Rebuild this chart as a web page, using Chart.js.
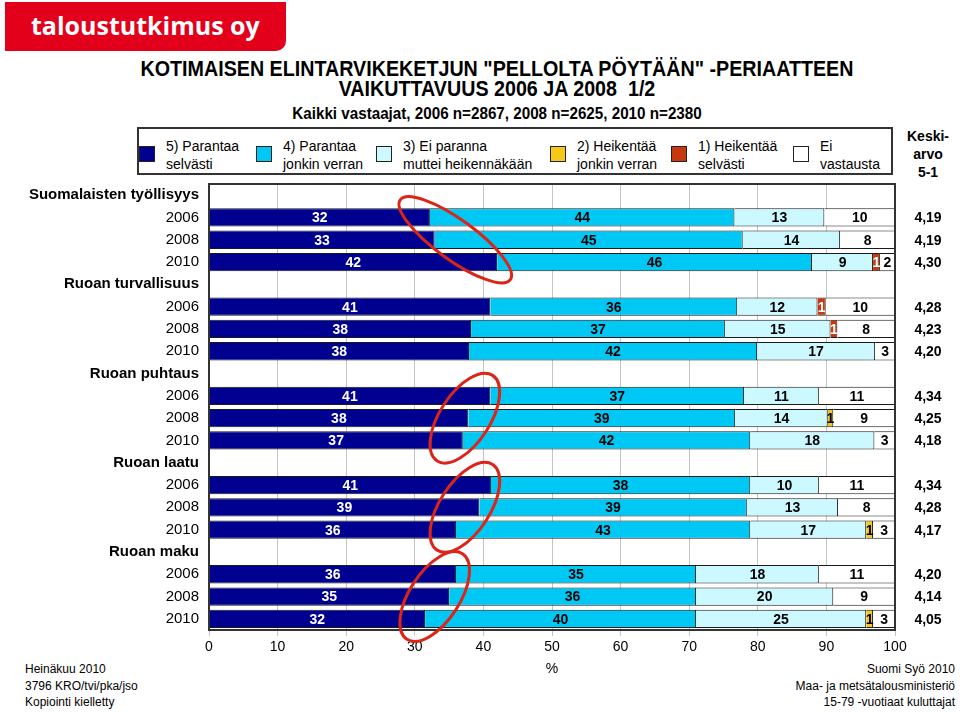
<!DOCTYPE html>
<html lang="fi">
<head>
<meta charset="utf-8">
<title>Pellolta pöytään</title>
<script src="https://cdn.jsdelivr.net/npm/chart.js@4.4.0/dist/chart.umd.min.js"></script>
<style>
  html, body { margin: 0; padding: 0; background: #fff; }
  body { width: 960px; height: 712px; position: relative; overflow: hidden; font-family: "Liberation Sans", Arial, sans-serif; color: #000; }
  #chartGraph { position: absolute; left: 0; top: 0; }
  .logo { position: absolute; left: 5px; top: 2px; width: 281px; height: 49px; background: #e2001a; border-bottom-right-radius: 10px; color: #fff; font-family: "Open Sans", sans-serif; font-weight: 700; font-size: 25px; line-height: 47px; padding-left: 26px; box-sizing: border-box; }
  .title { position: absolute; left: 0; width: 994px; text-align: center; font-family: "Liberation Sans", Arial, sans-serif; font-weight: bold; }
  .t1 { top: 59px; font-size: 22px; line-height: 20px; transform: scaleX(0.895); }
  .t2 { top: 105px; font-size: 16px; line-height: 18px; transform: scaleX(0.95); }
  .legendBox { position: absolute; left: 137px; top: 127px; width: 756px; height: 48px; border: 2px solid #333; box-sizing: border-box; }
  .legendItem { position: absolute; top: 8px; font-size: 14px; line-height: 18px; }
  .legendItem i { position: absolute; left: -27px; top: 9px; width: 14px; height: 14px; border: 1.5px solid #222; }
  .keski { position: absolute; left: 893px; width: 70px; top: 127px; text-align: center; font-weight: bold; font-size: 14px; line-height: 18px; }
  .foot { position: absolute; top: 661px; font-size: 12px; line-height: 16.5px; }
  .foot.left { left: 25px; }
  .foot.right { right: 5px; text-align: right; }
</style>
</head>
<body>
<div class="logo">taloustutkimus oy</div>
<div class="title t1">KOTIMAISEN ELINTARVIKEKETJUN "PELLOLTA PÖYTÄÄN" -PERIAATTEEN<br>VAIKUTTAVUUS 2006 JA 2008&nbsp; 1/2</div>
<div class="title t2">Kaikki vastaajat, 2006 n=2867, 2008 n=2625, 2010 n=2380</div>
<div class="legendBox" id="legendBox"></div>
<div class="keski">Keski-<br>arvo<br>5-1</div>
<div class="foot left">Heinäkuu 2010<br>3796 KRO/tvi/pka/jso<br>Kopiointi kielletty</div>
<div class="foot right">Suomi Syö 2010<br>Maa- ja metsätalousministeriö<br>15-79 -vuotiaat kuluttajat</div>
<canvas id="chartGraph" width="960" height="712"></canvas>
<script>
// Rivit: aiheotsikko + vuodet
const categories = [
  'Suomalaisten työllisyys', '2006', '2008', '2010',
  'Ruoan turvallisuus', '2006', '2008', '2010',
  'Ruoan puhtaus', '2006', '2008', '2010',
  'Ruoan laatu', '2006', '2008', '2010',
  'Ruoan maku', '2006', '2008', '2010',
];

// Osuudet (%) kuvasta luettuna
const parantaaSelvasti = [null, 32.2, 32.9, 42.0, null, 41.0, 38.2, 37.9, null, 41.0, 37.8, 37.0, null, 41.1, 39.4, 36.0, null, 36.0, 35.0, 31.5];
const parantaaJonkin = [null, 44.4, 44.9, 45.9, null, 36.0, 37.0, 42.0, null, 37.0, 38.9, 41.9, null, 37.8, 39.0, 42.9, null, 35.0, 36.0, 39.5];
const eiParanna = [null, 13.1, 14.2, 8.9, null, 11.7, 15.4, 17.2, null, 10.9, 13.5, 18.1, null, 10.0, 13.3, 16.9, null, 17.9, 20.0, 24.8];
const heikentaaJonkin = [null, 0, 0, 0, null, 0, 0, 0, null, 0, 0.8, 0, null, 0, 0, 1.0, null, 0, 0, 1.0];
const heikentaaSelvasti = [null, 0, 0, 1.0, null, 1.2, 1.0, 0, null, 0, 0, 0, null, 0, 0, 0, null, 0, 0, 0];
const eiVastausta = [null, 10.3, 8.0, 2.2, null, 10.1, 8.4, 2.9, null, 11.1, 9.0, 3.0, null, 11.1, 8.3, 3.2, null, 11.1, 9.0, 3.2];

const keskiarvo = ['', '4,19', '4,19', '4,30', '', '4,28', '4,23', '4,20', '', '4,34', '4,25', '4,18', '', '4,34', '4,28', '4,17', '', '4,20', '4,14', '4,05'];

// Käsin piirretyt renkaat: [x-arvo, rivi]
const renkaat = [[35.9, 2], [37.3, 10], [37.3, 14], [32.9, 18]];

const series = [
  { name: ['5) Parantaa', 'selvästi'], data: parantaaSelvasti, color: '#000090', text: '#fff' },
  { name: ['4) Parantaa', 'jonkin verran'], data: parantaaJonkin, color: '#00c8f4', text: '#000' },
  { name: ['3) Ei paranna', 'muttei heikennäkään'], data: eiParanna, color: '#ccf8ff', text: '#000' },
  { name: ['2) Heikentää', 'jonkin verran'], data: heikentaaJonkin, color: '#f7c818', text: '#000' },
  { name: ['1) Heikentää', 'selvästi'], data: heikentaaSelvasti, color: '#c8380e', text: '#fff' },
  { name: ['Ei', 'vastausta'], data: eiVastausta, color: '#ffffff', text: '#000' },
];

// Selite HTML:nä
const legendLeft = [166, 283, 403, 577, 698, 820];
const legendBox = document.getElementById('legendBox');
series.forEach(function (s, i) {
  const item = document.createElement('div');
  item.className = 'legendItem';
  item.style.left = (legendLeft[i] - 139) + 'px';
  item.innerHTML = '<i style="background:' + s.color + '"></i>' + s.name.join('<br>');
  legendBox.appendChild(item);
});

const isHeader = (label) => !/^\d{4}$/.test(label);

const framePlugin = {
  id: 'frame',
  afterDatasetsDraw(chart) {
    const { ctx, chartArea: a } = chart;
    ctx.save();
    ctx.strokeStyle = '#333';
    ctx.lineWidth = 2;
    ctx.strokeRect(a.left, a.top, a.right - a.left, a.bottom - a.top);
    ctx.restore();
  },
};

const valueLabels = {
  id: 'valueLabels',
  afterDatasetsDraw(chart) {
    const ctx = chart.ctx;
    ctx.save();
    ctx.font = 'bold 14px "Liberation Sans", Arial, sans-serif';
    ctx.textAlign = 'center';
    ctx.textBaseline = 'middle';
    chart.data.datasets.forEach(function (ds, di) {
      chart.getDatasetMeta(di).data.forEach(function (bar, i) {
        const v = ds.data[i];
        if (!v) return;
        ctx.fillStyle = series[di].text;
        ctx.fillText(String(Math.round(v)), (bar.x + bar.base) / 2, bar.y + 1);
      });
    });
    // keskiarvot oikealle
    const y = chart.scales.y;
    ctx.fillStyle = '#000';
    keskiarvo.forEach(function (k, i) {
      if (k) ctx.fillText(k, chart.chartArea.right + 33, y.getPixelForValue(i) + 1);
    });
    ctx.restore();
  },
};

const ringPlugin = {
  id: 'rings',
  afterDraw(chart) {
    const { ctx, scales } = chart;
    ctx.save();
    ctx.strokeStyle = '#dc2418';
    ctx.lineWidth = 3;
    renkaat.forEach(function (r, i) {
      const cx = scales.x.getPixelForValue(r[0]);
      const cy = scales.y.getPixelForValue(r[1]);
      ctx.beginPath();
      if (i === 0) ctx.ellipse(cx, cy, 68, 20, 36 * Math.PI / 180, 0, Math.PI * 2);
      else ctx.ellipse(cx, cy, 51, 25, -57 * Math.PI / 180, 0, Math.PI * 2);
      ctx.stroke();
    });
    ctx.restore();
  },
};

const datasets = series.map(function (s) {
  return {
    label: s.name.join(' '),
    data: s.data,
    backgroundColor: s.color,
    borderColor: '#1a1a1a',
    borderWidth: 1,
    barPercentage: 0.82,
    categoryPercentage: 1,
  };
});

Chart.defaults.font.family = '"Liberation Sans", Arial, sans-serif';
Chart.defaults.color = '#000';

const ctx = document.getElementById('chartGraph').getContext('2d');
const myChart = new Chart(ctx, {
  type: 'bar',
  data: { labels: categories, datasets: datasets },
  options: {
    indexAxis: 'y',
    responsive: false,
    animation: false,
    layout: { padding: { top: 184, right: 65, bottom: 30, left: 0 } },
    plugins: { legend: { display: false }, tooltip: { enabled: false } },
    scales: {
      x: {
        stacked: true,
        min: 0,
        max: 100,
        ticks: { stepSize: 10, color: '#000', font: { size: 14 }, padding: 3 },
        grid: { color: '#c4c4c4', tickLength: 6 },
        border: { display: false },
        title: { display: true, text: '%', color: '#000', font: { size: 14 }, padding: { top: 2, bottom: 4 } },
        afterFit(scale) { scale.height = 52; },
      },
      y: {
        stacked: true,
        grid: { display: false, drawTicks: false },
        border: { display: false },
        ticks: {
          autoSkip: false,
          padding: 10,
          color: '#000',
          font: (c) => ({ size: 15, weight: isHeader(categories[c.index]) ? 'bold' : 'normal' }),
        },
        afterFit(scale) { scale.width = 209; },
      },
    },
  },
  plugins: [framePlugin, valueLabels, ringPlugin],
});
</script>
</body>
</html>
